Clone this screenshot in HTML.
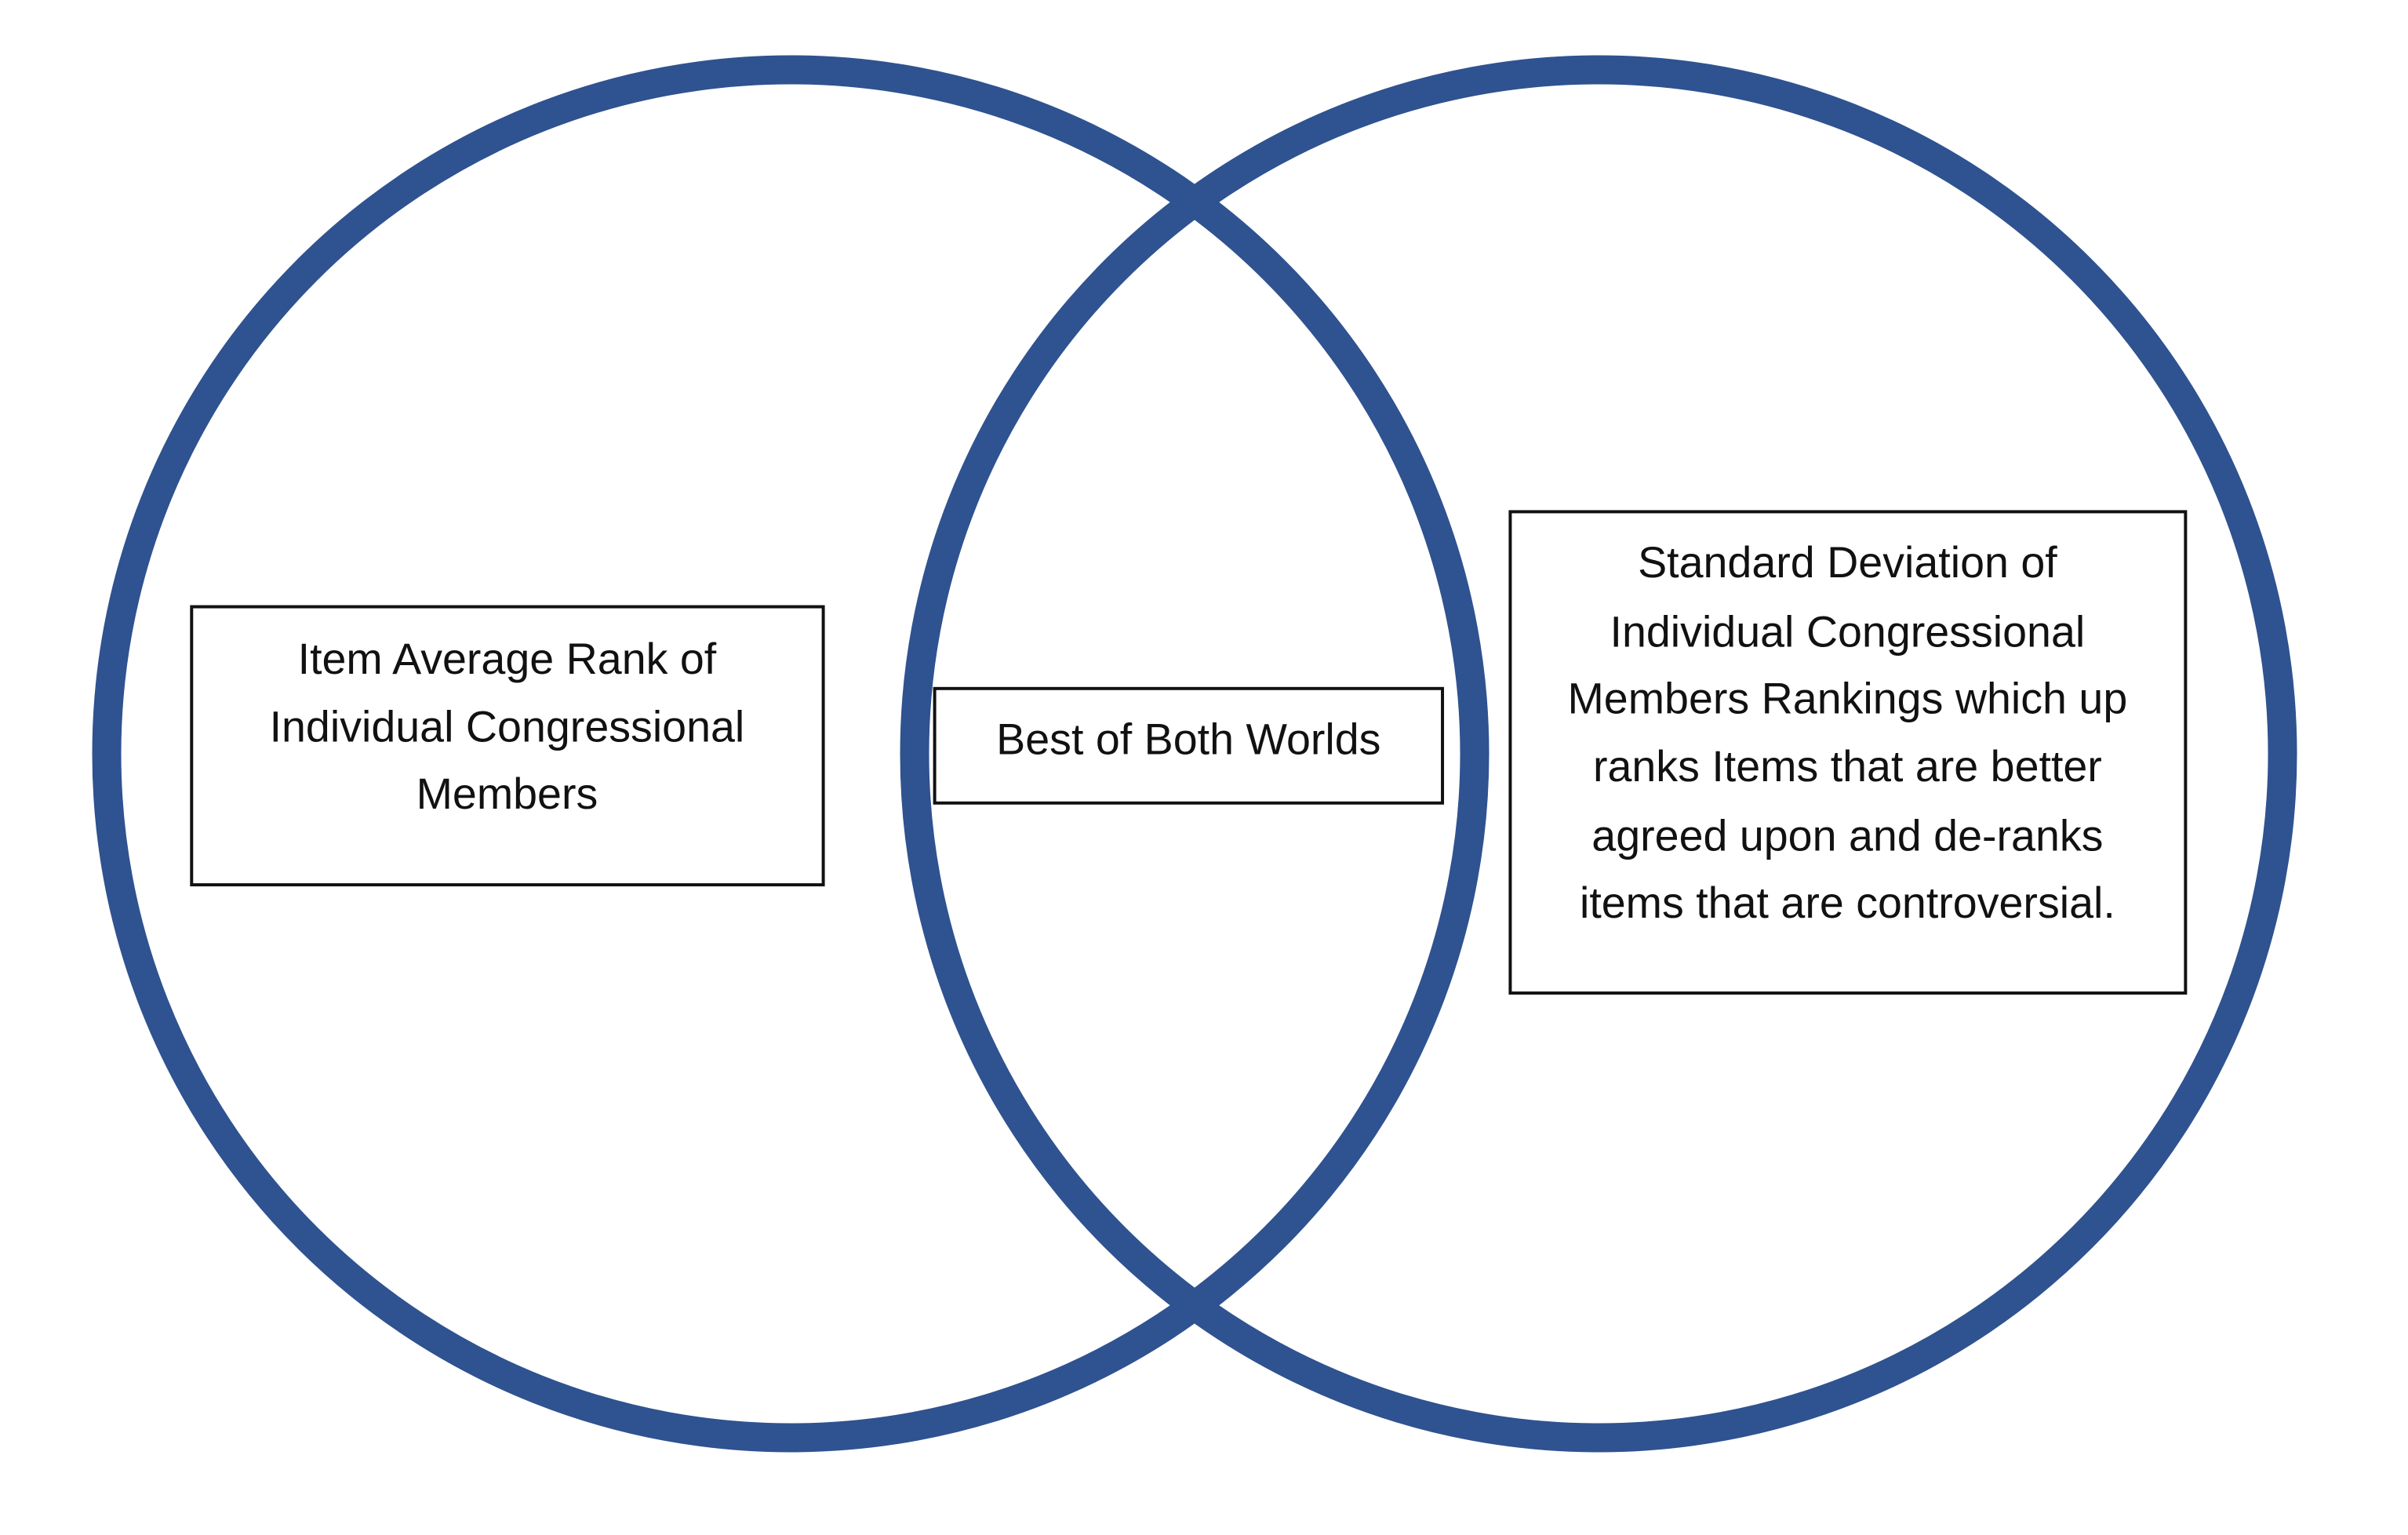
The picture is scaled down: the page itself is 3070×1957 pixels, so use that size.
<!DOCTYPE html>
<html><head><style>html,body{margin:0;padding:0;background:#fff}</style></head>
<body>
<svg width="3070" height="1952" viewBox="0 0 3070 1952" xmlns="http://www.w3.org/2000/svg">
<rect width="3070" height="1952" fill="#fff"/>
<circle cx="1008" cy="961" r="872" fill="none" stroke="#2f5290" stroke-width="37"/>
<circle cx="2038" cy="961" r="872" fill="none" stroke="#2f5290" stroke-width="37"/>
<g transform="scale(0.993)">
<g fill="#fff" stroke="#111" stroke-width="4">
<rect x="246" y="779" width="811" height="357"/>
<rect x="1200" y="884" width="652" height="147"/>
<rect x="1939" y="657" width="867" height="618"/>
</g>
<g font-family="Liberation Sans, sans-serif" font-size="56" fill="#111" text-anchor="middle" dominant-baseline="central">
<text x="651" y="846">Item Average Rank of</text>
<text x="651" y="933">Individual Congressional</text>
<text x="651" y="1019">Members</text>
<text x="1526" y="949">Best of Both Worlds</text>
<text x="2372" y="722">Standard Deviation of</text>
<text x="2372" y="811">Individual Congressional</text>
<text x="2372" y="897">Members Rankings which up</text>
<text x="2372" y="984">ranks Items that are better</text>
<text x="2372" y="1073">agreed upon and de-ranks</text>
<text x="2372" y="1159">items that are controversial.</text>
</g>
</g>
</svg>
</body></html>
